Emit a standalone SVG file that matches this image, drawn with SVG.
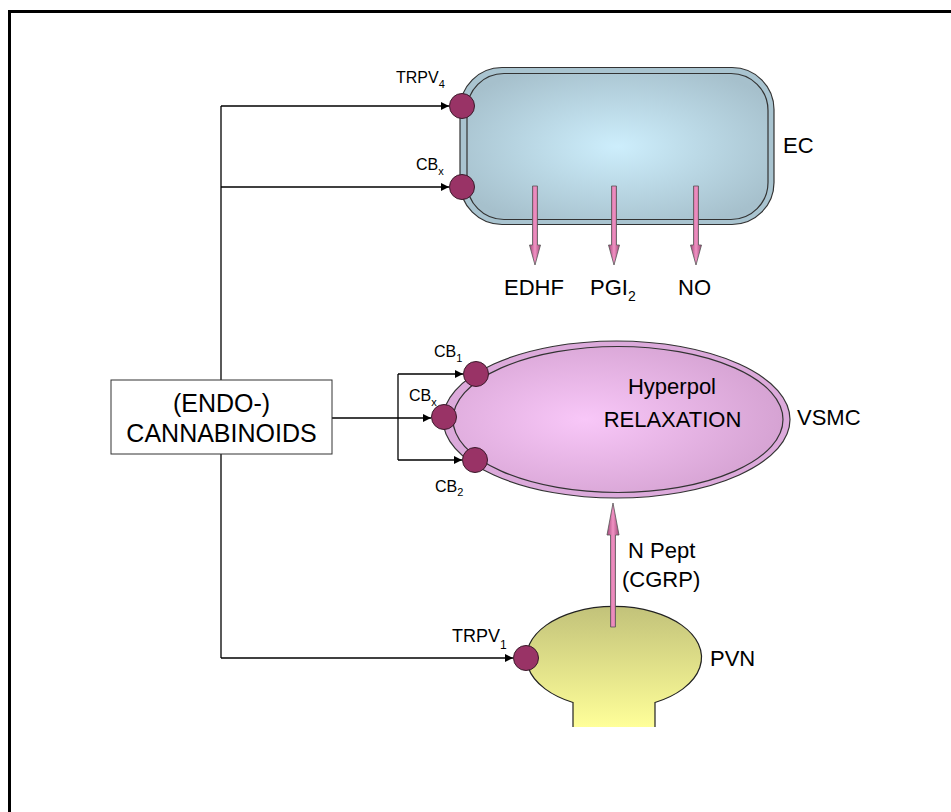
<svg xmlns="http://www.w3.org/2000/svg" width="951" height="812" viewBox="0 0 951 812">
<defs>
<style>
.t{font-family:"Liberation Sans",Arial,sans-serif;fill:#000}
.l{font-size:22px}
.s{font-size:16px}
.sub{font-size:11px}
.rc{fill:#993366;stroke:#3a1a2a;stroke-width:1}
.cn{fill:none;stroke:#000;stroke-width:1.3}
.pk{fill:url(#pink);stroke:#555;stroke-width:0.8}
</style>
<marker id="ah" viewBox="0 0 10 10" refX="10" refY="5" markerWidth="8" markerHeight="8" markerUnits="userSpaceOnUse" orient="auto">
<path d="M0,0 L10,5 L0,10 z" fill="#000"/>
</marker>
<radialGradient id="ecg" cx="0.5" cy="0.5" r="0.6">
<stop offset="0" stop-color="#cdeefc"/>
<stop offset="1" stop-color="#a6c0cc"/>
</radialGradient>
<radialGradient id="vsg" cx="0.4" cy="0.5" r="0.6">
<stop offset="0" stop-color="#f8c7f8"/>
<stop offset="1" stop-color="#d6a3d3"/>
</radialGradient>
<linearGradient id="pvg" x1="0" y1="0" x2="0" y2="1">
<stop offset="0" stop-color="#c2c27a"/>
<stop offset="1" stop-color="#ffff99"/>
</linearGradient>
<linearGradient id="pink" x1="0" y1="0" x2="1" y2="0">
<stop offset="0" stop-color="#a04878"/>
<stop offset="0.5" stop-color="#f292c4"/>
<stop offset="1" stop-color="#a04878"/>
</linearGradient>
</defs>
<rect width="951" height="812" fill="#fff"/>
<path d="M9.5,812 V11.5 H951" fill="none" stroke="#000" stroke-width="3"/>

<g id="connectors">
<path class="cn" d="M221,106 V380"/>
<path class="cn" d="M221,454 V658"/>
<path class="cn" d="M221,658 H513" marker-end="url(#ah)"/>
<path class="cn" d="M221,106 H449" marker-end="url(#ah)"/>
<path class="cn" d="M221,187 H449" marker-end="url(#ah)"/>
<path class="cn" d="M332,418 H431" marker-end="url(#ah)"/>
<path class="cn" d="M398,374 V460"/>
<path class="cn" d="M398,374 H463" marker-end="url(#ah)"/>
<path class="cn" d="M398,460 H462" marker-end="url(#ah)"/>
</g>

<g id="EC">
<rect x="460" y="67.5" width="314" height="157" rx="42" fill="#a9c4d0" stroke="#333" stroke-width="1.2"/>
<rect x="467" y="73.5" width="301" height="146" rx="37" fill="url(#ecg)" stroke="#333" stroke-width="1.2"/>
<text class="t l" x="783" y="153">EC</text>
</g>

<g id="TRPV4">
<circle class="rc" cx="462" cy="106" r="12.5"/>
<text class="t s" x="396" y="83">TRPV<tspan class="sub" dy="5">4</tspan></text>
</g>
<g id="CBx-EC">
<circle class="rc" cx="462" cy="187" r="12.5"/>
<text class="t s" x="416" y="170">CB<tspan class="sub" dy="5">x</tspan></text>
</g>

<g id="EDHF">
<polygon class="pk" points="532.5,186 537.5,186 537.5,245 540.5,245 535,265 529.5,245 532.5,245"/>
<text class="t l" x="504" y="295">EDHF</text>
</g>
<g id="PGI2">
<polygon class="pk" points="611.5,186 616.5,186 616.5,245 619.5,245 614,265 608.5,245 611.5,245"/>
<text class="t l" x="590" y="295">PGI<tspan font-size="14" dy="6">2</tspan></text>
</g>
<g id="NO">
<polygon class="pk" points="693.5,186 698.5,186 698.5,245 701.5,245 696,265 690.5,245 693.5,245"/>
<text class="t l" x="678" y="295">NO</text>
</g>

<g id="cannabinoids">
<rect x="111" y="380" width="221" height="74" fill="#fff" stroke="#333" stroke-width="1"/>
<text class="t" font-size="25" text-anchor="middle" x="221.5" y="411.5">(ENDO-)</text>
<text class="t" font-size="25" text-anchor="middle" x="221.5" y="441.5">CANNABINOIDS</text>
</g>

<g id="VSMC">
<ellipse cx="616.5" cy="419.5" rx="173.5" ry="78.5" fill="#dcaadb" stroke="#333" stroke-width="1.2"/>
<ellipse cx="618" cy="419.5" rx="165" ry="73" fill="url(#vsg)" stroke="#333" stroke-width="1.2"/>
<text class="t l" text-anchor="middle" x="672" y="394">Hyperpol</text>
<text class="t l" text-anchor="middle" x="672.5" y="427">RELAXATION</text>
<text class="t l" x="797" y="425">VSMC</text>
</g>

<g id="CB1">
<circle class="rc" cx="476" cy="374" r="12.5"/>
<text class="t s" x="434" y="357">CB<tspan class="sub" dy="5">1</tspan></text>
</g>
<g id="CBx-VSMC">
<circle class="rc" cx="444" cy="417" r="12.5"/>
<text class="t s" x="409" y="401">CB<tspan class="sub" dy="5">x</tspan></text>
</g>
<g id="CB2">
<circle class="rc" cx="475" cy="460" r="12.5"/>
<text class="t s" x="435" y="492">CB<tspan class="sub" dy="4">2</tspan></text>
</g>

<g id="PVN">
<path d="M573,727 V702.5 A87.5,51 0 1 1 655,702.5 V727" fill="url(#pvg)" stroke="#222" stroke-width="1.2"/>
<text class="t l" x="710" y="666">PVN</text>
</g>

<g id="NPept">
<polygon class="pk" points="610.5,627 615.5,627 615.5,535 619,535 613,503 607,535 610.5,535"/>
<text class="t l" x="628" y="558">N Pept</text>
<text class="t l" x="622" y="587">(CGRP)</text>
</g>

<g id="TRPV1">
<circle class="rc" cx="526" cy="658" r="12.5"/>
<text class="t" font-size="18" x="452" y="642">TRPV<tspan font-size="12" dy="7">1</tspan></text>
</g>
</svg>
